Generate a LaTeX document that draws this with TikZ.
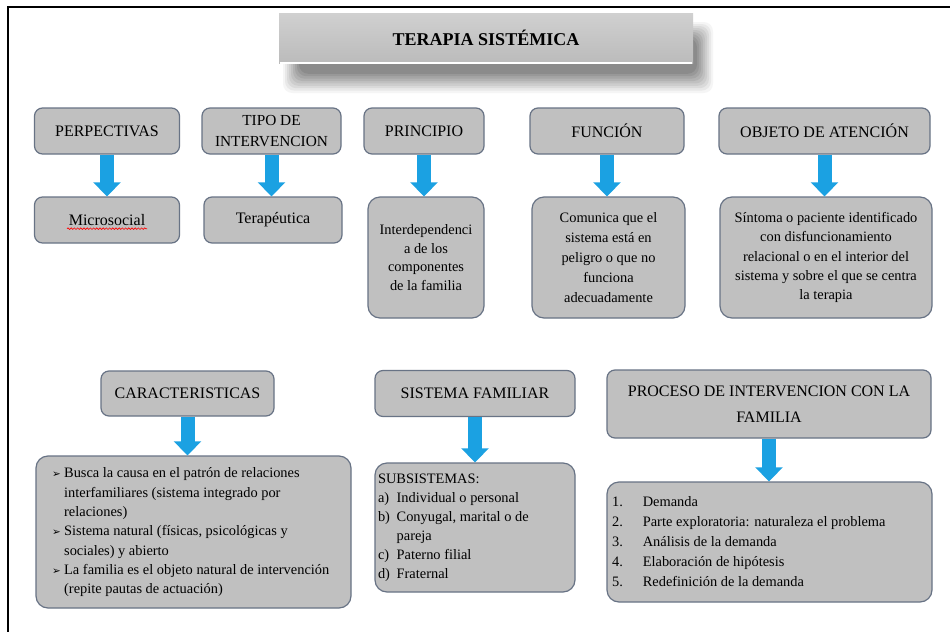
\documentclass[tikz,border=0pt]{standalone}
\usepackage{fontspec}
\setmainfont{Liberation Serif}
\newfontfamily\dejavu{DejaVu Sans}
\usetikzlibrary{arrows.meta,decorations.pathmorphing}
\definecolor{boxfill}{HTML}{C0C0C0}
\definecolor{boxline}{HTML}{687385}
\definecolor{flowblue}{HTML}{1BA1E2}
\definecolor{titletop}{HTML}{D0D0D0}
\definecolor{titlebot}{HTML}{BBBBBB}
\newcommand\arrbullet{\makebox[9pt][l]{\raisebox{0.3pt}{\dejavu\fontsize{7.8}{7.8}\selectfont ➢}}}
\newcommand\lab[2]{\makebox[#1][l]{#2}}
\tikzset{
  basebox/.style={draw=boxline, fill=boxfill, line width=0.9pt, rounded corners=6pt, inner sep=2pt},
  headbox/.style={basebox, align=center, font=\fontsize{12}{18}\selectfont},
  textbox/.style={basebox, rounded corners=9pt, align=center, font=\fontsize{10.8}{14.5}\selectfont},
  listbox/.style={basebox, rounded corners=9pt, font=\fontsize{10.8}{14.5}\selectfont},
  titlebox/.style={shade, top color=titletop, bottom color=titlebot, draw=none, inner sep=0pt,
    font=\bfseries\fontsize{13.5}{15}\selectfont},
  sz/.style 2 args={minimum width=#1*0.75pt, minimum height=#2*0.75pt},
  flow/.style={draw=flowblue, line width=10.5pt, -{Triangle[width=20pt,length=10.5pt]}},
  frameline/.style={line width=1.6pt, draw=black},
  wavy/.style={draw=red, line width=0.5pt, decorate, decoration={snake, amplitude=0.6pt, segment length=2.4pt}}
}
\begin{document}
\begin{tikzpicture}[x=0.75pt,y=-0.75pt]
\useasboundingbox (0,0) rectangle (950,632);
\fill[white] (0,0) rectangle (950,632);
% frame
\draw[frameline] (950,7) -- (8,7) -- (8,632);
% title with soft shadow (stacked solid layers)
\foreach \i in {0,...,8}{
  \pgfmathsetmacro\shd{4+5.2*\i}
  \fill[black!\shd, rounded corners=7pt] ({283+2*\i},{22+2*\i}) rectangle ({713-2*\i},{93-2.4*\i});
}
\node[titlebox, sz={414}{50}] (tit) at (486,38) {TERAPIA SISTÉMICA};
\draw[white, line width=1.2pt] ([xshift=1pt]tit.south west) -- ([xshift=-1pt]tit.south east);
% top row headers
\node[headbox, sz={145}{46}] (per) at (107,131) {PERPECTIVAS};
\node[headbox, sz={139}{46}, font=\fontsize{11.5}{16}\selectfont] (tipo) at (271.5,131) {TIPO DE\\INTERVENCION};
\node[headbox, sz={120}{46}] (prin) at (424,131) {PRINCIPIO};
\node[headbox, sz={154}{46}] (func) at (607,131) {FUNCIÓN};
\node[headbox, sz={211}{46}] (obj) at (824.5,131) {OBJETO DE ATENCIÓN};
% top row contents
\node[headbox, sz={145}{46}] (ms) at (107,220) {Microsocial};
\draw[wavy] ([xshift=-30pt,yshift=-2.4pt]ms.base) -- ([xshift=30pt,yshift=-2.4pt]ms.base);
\node[headbox, sz={138}{46}] (ter) at (273,220) {Terapéutica};
\node[textbox, sz={116}{121}, font=\fontsize{10.8}{14}\selectfont] (intd) at (426,257.5) {Interdependenci\\a de los\\componentes\\de la familia};
\node[textbox, sz={153}{121}, font=\fontsize{10.8}{15}\selectfont] (com) at (608.5,257.5) {Comunica que el\\sistema está en\\peligro o que no\\funciona\\adecuadamente};
\node[textbox, sz={212}{121}] (sin) at (826,257.5) {Síntoma o paciente identificado\\con disfuncionamiento\\relacional o en el interior del\\sistema y sobre el que se centra\\la terapia};
% bottom row headers
\node[headbox, sz={173}{45}] (car) at (187.5,393.5) {CARACTERISTICAS};
\node[headbox, sz={200}{46}] (sf) at (475,393.5) {SISTEMA FAMILIAR};
\node[headbox, sz={324}{68}, font=\fontsize{12}{19.5}\selectfont] (pro) at (769,404) {PROCESO DE INTERVENCION CON LA\\FAMILIA};
% bottom row contents
\node[listbox, sz={315}{152}] (carc) at (193.5,532) {\makebox[212pt][l]{\begin{tabular}{@{}l@{}l@{}}
\arrbullet & Busca la causa en el patrón de relaciones\\
 & interfamiliares (sistema integrado por\\
 & relaciones)\\
\arrbullet & Sistema natural (físicas, psicológicas y\\
 & sociales) y abierto\\
\arrbullet & La familia es el objeto natural de intervención\\
 & (repite pautas de actuación)
\end{tabular}}};
\node[listbox, sz={200}{129}, font=\fontsize{10.8}{14.3}\selectfont] (sfc) at (475,527.5) {\makebox[145.5pt][l]{\begin{tabular}{@{}l@{}l@{}}
\multicolumn{2}{@{}l@{}}{SUBSISTEMAS:}\\
\lab{14pt}{a)} & Individual o personal\\
\lab{14pt}{b)} & Conyugal, marital o de\\
 & pareja\\
\lab{14pt}{c)} & Paterno filial\\
\lab{14pt}{d)} & Fraternal
\end{tabular}}};
\node[listbox, sz={325}{120}, font=\fontsize{10.8}{15}\selectfont] (proc) at (769.5,542) {\makebox[236pt][l]{\begin{tabular}{@{}l@{}l@{}}
\lab{23pt}{1.} & Demanda\\
\lab{23pt}{2.} & Parte exploratoria: naturaleza el problema\\
\lab{23pt}{3.} & Análisis de la demanda\\
\lab{23pt}{4.} & Elaboración de hipótesis\\
\lab{23pt}{5.} & Redefinición de la demanda
\end{tabular}}};
% arrows
\draw[flow] (per.south) -- (per.south |- ms.north);
\draw[flow] (tipo.south) -- (tipo.south |- ter.north);
\draw[flow] (prin.south) -- (prin.south |- intd.north);
\draw[flow] (func.south) -- (func.south |- com.north);
\draw[flow] (obj.south) -- (obj.south |- sin.north);
\draw[flow] (car.south) -- (car.south |- carc.north);
\draw[flow] (sf.south) -- (sf.south |- sfc.north);
\draw[flow] (pro.south) -- (pro.south |- proc.north);
\end{tikzpicture}
\end{document}
